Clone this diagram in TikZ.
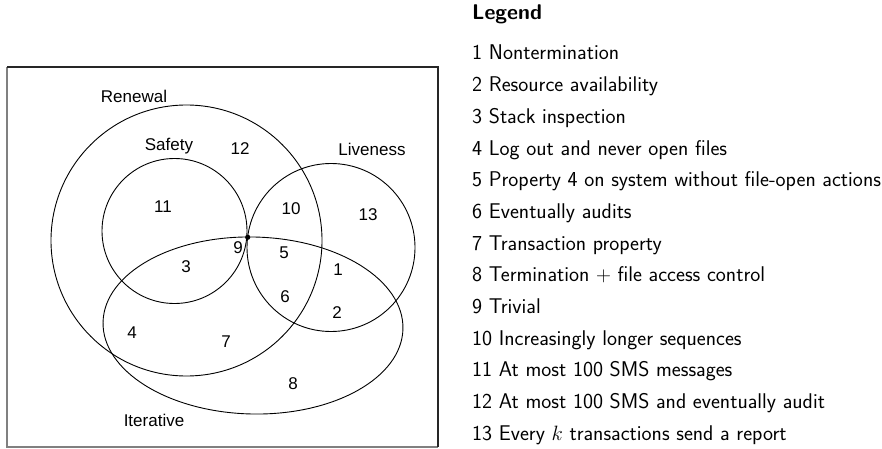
\documentclass[tikz,border=0pt]{standalone}
\usepackage{amsmath}
\usepackage{amssymb}
\usepackage{fontspec}
\newfontfamily\vennfont{Liberation Sans}
\usepackage{tikz}

\begin{document}
\begin{tikzpicture}[
  x = 1pt, y = -1pt,
  set/.style = {draw, line width = 0.9pt},
  region/.style = {inner sep = 0pt, font = \vennfont\fontsize{17}{20}\selectfont},
  entry/.style = {anchor = base west, inner sep = 0pt, font = \sffamily\fontsize{21.3}{25}\selectfont}
]
\useasboundingbox (0,0) rectangle (882,449);

\draw[gray, line width = 2pt] (7,67) -- (7,447) -- (438,447);
\draw[black!85, line width = 2pt] (7,67) -- (438,67) -- (438,447);

\coordinate (renewal) at (186.5,240.5);
\coordinate (safety) at (174.5,231);
\coordinate (liveness) at (331,247.5);
\coordinate (iterative) at (253,325.5);

\draw[set] (renewal) circle (135.5);
\draw[set] (safety) circle (72.5);
\draw[set] (liveness) circle (84);
\draw[set, rotate around = {-1.3:(iterative)}] (iterative) ellipse (150 and 88.5);
\fill (247.7,237.3) circle (2.6);

\node[region] (renewal-name) at (134,96) {Renewal};
\node[region] (safety-name) at (169,146) {Safety};
\node[region] (liveness-name) at (372,149) {Liveness};
\node[region] (iterative-name) at (154,420) {Iterative};

\node[region] (r1) at (338,270) {1};
\node[region] (r2) at (337,313) {2};
\node[region] (r3) at (186,267) {3};
\node[region] (r4) at (132,333) {4};
\node[region] (r5) at (284,253) {5};
\node[region] (r6) at (285,297) {6};
\node[region] (r7) at (226,342) {7};
\node[region] (r8) at (293,384) {8};
\node[region] (r9) at (238,248) {9};
\node[region] (r10) at (291,209) {10};
\node[region] (r11) at (163,207) {11};
\node[region] (r12) at (240,149) {12};
\node[region] (r13) at (368,215) {13};

\node[entry, font = \sffamily\bfseries\fontsize{21.3}{25}\selectfont] (legend) at (472,19.5) {Legend};
\foreach \txt [count = \i] in {
  Nontermination,
  Resource availability,
  Stack inspection,
  Log out and never open files,
  Property 4 on system without file-open actions,
  Eventually audits,
  Transaction property,
  Termination $+$ file access control,
  Trivial,
  Increasingly longer sequences,
  At most 100 SMS messages,
  At most 100 SMS and eventually audit,
  Every $k$ transactions send a report
}
  \node[entry] (item\i) at (472,28.33+31.67*\i) {\i\ \txt};

\end{tikzpicture}
\end{document}
